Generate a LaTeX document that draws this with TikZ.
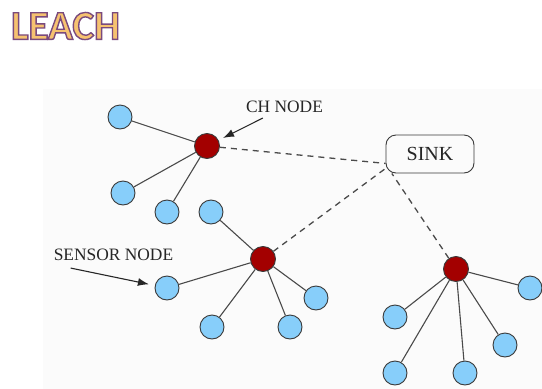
\documentclass[tikz,border=0pt]{standalone}
\usepackage{fontspec}
\setmainfont{Liberation Serif}
\newfontfamily\titrefont{Carlito}
\usetikzlibrary{arrows.meta}
\definecolor{bleucapteur}{HTML}{87CEFA}
\definecolor{rougech}{HTML}{A30000}
\definecolor{bord}{HTML}{3A3A3A}
\definecolor{gris}{HTML}{4A4A4A}
\definecolor{fond}{HTML}{FBFBFB}
\definecolor{titreor}{HTML}{F6C270}
% contour violet du titre (mode de rendu 2 : remplir et tracer)
\newcommand{\titrecontour}[1]{%
  \special{pdf:literal direct 2 Tr 1.4 w 0.48 0.29 0.49 RG}#1\special{pdf:literal direct 0 Tr}}
\begin{document}
\begin{tikzpicture}[x=1pt,y=-1pt]
% Styles
\tikzstyle{fleche}=[-{Latex[length=11pt,width=8pt]},line width=1.1pt,draw=black!85]
\tikzstyle{capteur}=[draw=bord,fill=bleucapteur,circle,line width=0.9pt,minimum size=24pt,inner sep=0pt]
\tikzstyle{chef}=[capteur,fill=rougech,minimum size=25pt]
\tikzstyle{lien}=[line width=1.1pt,draw=gris]
\tikzstyle{radio}=[dash pattern=on 6pt off 5pt,line width=1.3pt,draw=gris]
\tikzstyle{etiquette}=[font=\fontsize{17.4}{18}\selectfont,text=black!85,inner sep=0pt]
% Cadre
\useasboundingbox (0,0) rectangle (542,389);
\fill[fond] (43,89) rectangle (542,389);
% Titre
\node[inner sep=0pt,anchor=west,text=titreor] (titre) at (11,26)
  {\titrefont\bfseries\fontsize{41}{41}\selectfont\titrecontour{LEACH}};
% Noeuds CH
\node[chef] (ch1) at (207,146) {};
\node[chef] (ch2) at (263,259) {};
\node[chef] (ch3) at (456,269) {};
% Puits
\node[draw=bord,line width=0.9pt,rounded corners=10pt,minimum width=88pt,minimum height=38pt,
  font=\fontsize{20}{22}\selectfont,text=black!85] (puits) at (430,154) {SINK};
% Capteurs
\node[capteur] (a1) at (120,117) {};
\node[capteur] (a2) at (123,193) {};
\node[capteur] (a3) at (167,212) {};
\node[capteur] (b1) at (211,212) {};
\node[capteur] (b2) at (167,288) {};
\node[capteur] (b3) at (212,327) {};
\node[capteur] (b4) at (290,327) {};
\node[capteur] (b5) at (316,298) {};
\node[capteur] (c1) at (395,317) {};
\node[capteur] (c2) at (395,373) {};
\node[capteur] (c3) at (465,373) {};
\node[capteur] (c4) at (505,345) {};
\node[capteur] (c5) at (530,288) {};
% Etiquettes
\node[etiquette] (lch) at (284.5,107) {CH NODE};
\node[etiquette] (lcapteur) at (113.5,255) {SENSOR NODE};
% Liens
\foreach \c in {a1,a2,a3} \draw[lien] (\c) -- (ch1);
\foreach \c in {b1,b2,b3,b4,b5} \draw[lien] (\c) -- (ch2);
\foreach \c in {c1,c2,c3,c4,c5} \draw[lien] (\c) -- (ch3);
\draw[radio] (ch1) -- (puits.192);
\draw[radio] (ch2) -- (puits.198);
\draw[radio] (ch3) -- (puits.207);
% Fleches
\draw[fleche,shorten >=5pt] ([xshift=17pt,yshift=-5pt]lch.south west) -- (ch1);
\draw[fleche,shorten >=6pt] ([xshift=17pt,yshift=-7pt]lcapteur.south west) -- (b2);
\end{tikzpicture}
\end{document}
